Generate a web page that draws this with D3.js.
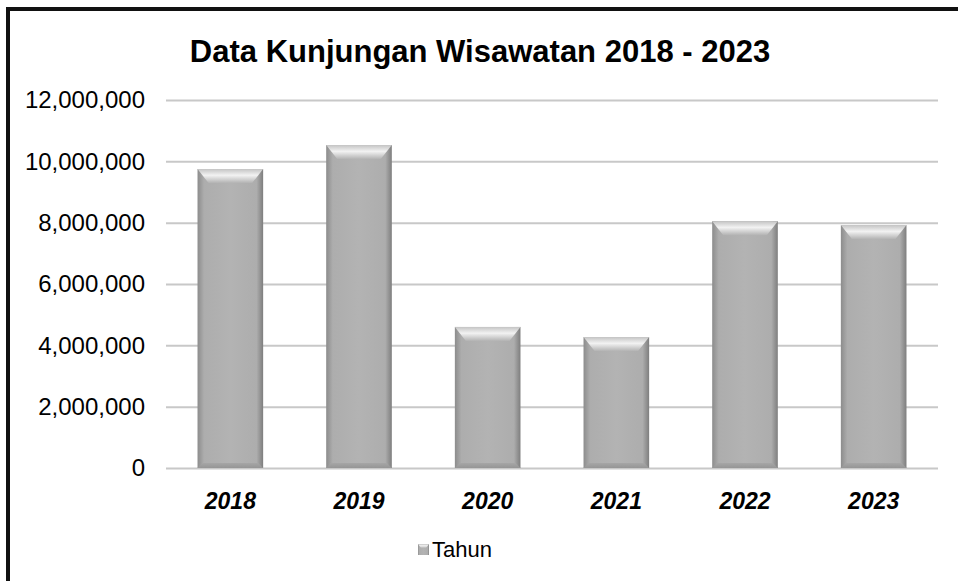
<!doctype html>
<html>
  <head>
    <script src="https://cdn.jsdelivr.net/npm/d3@7/dist/d3.min.js"></script>
    <style>
      body { margin: 0; background: #fff; }
      text { font-family: "Liberation Sans", Arial, sans-serif; }
    </style>
  </head>
  <body>
    <svg id="chart" width="958" height="581"></svg>
    <script>
      const years = ["2018", "2019", "2020", "2021", "2022", "2023"];
      const visitors = [9750000, 10530000, 4600000, 4270000, 8050000, 7920000];
      const yTicks = [0, 2000000, 4000000, 6000000, 8000000, 10000000, 12000000];

      const svg = d3.select("#chart");
      const defs = svg.append("defs");

      // body gradient: darker at the sides
      const sideGrad = defs.append("linearGradient").attr("id", "side")
        .attr("x1", 0).attr("x2", 1).attr("y1", 0).attr("y2", 0);
      sideGrad.append("stop").attr("offset", "0").attr("stop-color", "#8c8c8c");
      sideGrad.append("stop").attr("offset", "0.1").attr("stop-color", "#adadad");
      sideGrad.append("stop").attr("offset", "0.5").attr("stop-color", "#b3b3b3");
      sideGrad.append("stop").attr("offset", "0.9").attr("stop-color", "#adadad");
      sideGrad.append("stop").attr("offset", "1").attr("stop-color", "#7e7e7e");

      const topGrad = defs.append("linearGradient").attr("id", "topbev")
        .attr("x1", 0).attr("x2", 0).attr("y1", 0).attr("y2", 1);
      topGrad.append("stop").attr("offset", "0").attr("stop-color", "#c4c4c4");
      topGrad.append("stop").attr("offset", "0.45").attr("stop-color", "#f2f2f2");
      topGrad.append("stop").attr("offset", "1").attr("stop-color", "#b3b3b3");

      const botGrad = defs.append("linearGradient").attr("id", "botbev")
        .attr("x1", 0).attr("x2", 0).attr("y1", 0).attr("y2", 1);
      botGrad.append("stop").attr("offset", "0").attr("stop-color", "#a6a6a6");
      botGrad.append("stop").attr("offset", "1").attr("stop-color", "#959595");

      // outer frame (only top and left visible in the picture)
      svg.append("rect")
        .attr("x", 8).attr("y", 9)
        .attr("width", 1000).attr("height", 620)
        .style("fill", "none").style("stroke", "#111").style("stroke-width", 4);

      const xScale = d3.scaleBand().domain(years).range([166, 938]).paddingInner(0.49).paddingOuter(0.245);
      const yScale = d3.scaleLinear().domain([0, 12000000]).range([468, 100]);

      const yAxis = d3.axisLeft(yScale)
        .tickValues(yTicks)
        .tickSize(-772)
        .tickPadding(21)
        .tickFormat(d3.format(","));

      svg.append("g")
        .attr("id", "yAxisG")
        .attr("transform", "translate(166,0)")
        .call(yAxis)
        .call(g => g.select(".domain").remove())
        .call(g => g.selectAll("line").style("stroke", "#c8c8c8").style("stroke-width", 2))
        .call(g => g.selectAll("text").style("font-size", "24px").style("fill", "#000")
          .attr("font-family", "Liberation Sans, Arial, sans-serif"));

      const xAxis = d3.axisBottom(xScale).tickSize(0).tickPadding(25);
      svg.append("g")
        .attr("id", "xAxisG")
        .attr("transform", "translate(0,468)")
        .call(xAxis)
        .call(g => g.select(".domain").remove())
        .call(g => g.selectAll("text").style("font-size", "23px").style("font-weight", "bold")
          .style("font-style", "italic").style("fill", "#000")
          .attr("font-family", "Liberation Sans, Arial, sans-serif"));

      const bev = 11;
      svg.selectAll("g.bar")
        .data(years).enter()
        .append("g")
          .attr("class", "bar")
          .each(function(d, i) {
            const x0 = xScale(d), w = xScale.bandwidth();
            const y0 = yScale(visitors[i]), y1 = yScale(0);
            const g = d3.select(this);
            g.append("rect")
              .attr("x", x0).attr("y", y0)
              .attr("width", w).attr("height", y1 - y0)
              .style("fill", "url(#side)");
            g.append("path")
              .attr("d", `M${x0},${y0}L${x0 + w},${y0}L${x0 + w - bev},${y0 + bev + 3}L${x0 + bev},${y0 + bev + 3}Z`)
              .style("fill", "url(#topbev)");
            g.append("path")
              .attr("d", `M${x0 + 5},${y1 - 5}L${x0 + w - 5},${y1 - 5}L${x0 + w},${y1}L${x0},${y1}Z`)
              .style("fill", "url(#botbev)");
          });

      svg.append("text")
        .attr("x", 480).attr("y", 62)
        .attr("text-anchor", "middle")
        .style("font-size", "31px").style("font-weight", "bold")
        .text("Data Kunjungan Wisawatan 2018 - 2023");

      // legend
      const lg = svg.append("g").attr("transform", "translate(418,544)");
      lg.append("rect").attr("x", 0).attr("y", 0).attr("width", 11).attr("height", 11)
        .style("fill", "url(#side)");
      lg.append("path").attr("d", "M0,0L11,0L8,4L3,4Z").style("fill", "url(#topbev)");
      lg.append("text").attr("x", 14).attr("y", 13)
        .style("font-size", "22px").text("Tahun");
    </script>
  </body>
</html>
